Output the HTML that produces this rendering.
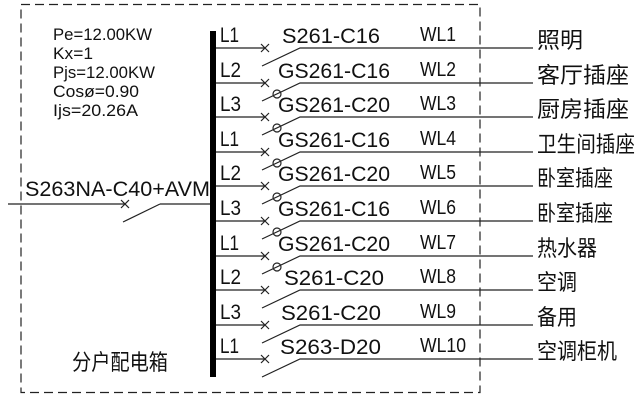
<!DOCTYPE html>
<html><head><meta charset="utf-8"><style>
html,body{margin:0;padding:0;background:#fff;}
svg{display:block;}
text{font-family:"Liberation Sans","Noto Sans CJK SC",sans-serif;fill:#111;}
.c{font-family:"Noto Sans CJK SC","WenQuanYi Zen Hei",sans-serif;font-size:22px;}
.l{font-size:21px;}
.b{font-size:21px;}
.w{font-size:20px;}
</style></head><body>
<svg width="640" height="401" viewBox="0 0 640 401" xmlns="http://www.w3.org/2000/svg">
<rect x="0" y="0" width="640" height="401" fill="#fff"/>
<rect x="21" y="4.5" width="459" height="388" stroke="#222" stroke-width="1.2" fill="none" stroke-dasharray="9,5"/>
<g font-size="17">
<text x="53" y="40" textLength="99" lengthAdjust="spacingAndGlyphs">Pe=12.00KW</text>
<text x="53" y="59" textLength="40" lengthAdjust="spacingAndGlyphs">Kx=1</text>
<text x="53" y="78" textLength="102" lengthAdjust="spacingAndGlyphs">Pjs=12.00KW</text>
<text x="53" y="97" textLength="86" lengthAdjust="spacingAndGlyphs">Cosø=0.90</text>
<text x="53" y="116" textLength="85" lengthAdjust="spacingAndGlyphs">Ijs=20.26A</text>
<text x="25" y="196" font-size="21" textLength="185" lengthAdjust="spacingAndGlyphs">S263NA-C40+AVM</text>
</g>
<g stroke="#222" stroke-width="1.2" fill="none">
<line x1="8" y1="204" x2="125" y2="204"/>
<line x1="121" y1="200" x2="129" y2="208"/><line x1="121" y1="208" x2="129" y2="200"/>
<line x1="123" y1="222" x2="160" y2="204"/>
<line x1="160" y1="204" x2="212" y2="204"/>
</g>
<rect x="210" y="31" width="6" height="346" fill="#000"/>
<text class="c" x="72" y="370" textLength="96" lengthAdjust="spacingAndGlyphs">分户配电箱</text>

<!-- rows: y = 48,83,117,152,186,221,256,290,325,359 -->
<g stroke="#222" stroke-width="1.2" fill="none">
<path d="M216 48H265M261 44l8 8M261 52l8-8M262 66L300 48H533"/>
<path d="M216 83H265M261 79l8 8M261 87l8-8M262 101L300 83H533"/>
<path d="M216 117H265M261 113l8 8M261 121l8-8M262 135L300 117H533"/>
<path d="M216 152H265M261 148l8 8M261 156l8-8M262 170L300 152H533"/>
<path d="M216 186H265M261 182l8 8M261 190l8-8M262 204L300 186H533"/>
<path d="M216 221H265M261 217l8 8M261 225l8-8M262 239L300 221H533"/>
<path d="M216 256H265M261 252l8 8M261 260l8-8M262 274L300 256H533"/>
<path d="M216 290H265M261 286l8 8M261 294l8-8M262 308L300 290H533"/>
<path d="M216 325H265M261 321l8 8M261 329l8-8M262 343L300 325H533"/>
<path d="M216 359H265M261 355l8 8M261 363l8-8M262 377L300 359H533"/>
<circle cx="277" cy="94" r="4"/>
<circle cx="277" cy="128" r="4"/>
<circle cx="277" cy="163" r="4"/>
<circle cx="277" cy="197" r="4"/>
<circle cx="277" cy="232" r="4"/>
<circle cx="277" cy="267" r="4"/>
</g>

<g class="l">
<text x="220" y="42" textLength="19" lengthAdjust="spacingAndGlyphs">L1</text>
<text x="220" y="77" textLength="21" lengthAdjust="spacingAndGlyphs">L2</text>
<text x="220" y="111" textLength="21" lengthAdjust="spacingAndGlyphs">L3</text>
<text x="220" y="146" textLength="19" lengthAdjust="spacingAndGlyphs">L1</text>
<text x="220" y="180" textLength="21" lengthAdjust="spacingAndGlyphs">L2</text>
<text x="220" y="215" textLength="21" lengthAdjust="spacingAndGlyphs">L3</text>
<text x="220" y="250" textLength="19" lengthAdjust="spacingAndGlyphs">L1</text>
<text x="220" y="284" textLength="21" lengthAdjust="spacingAndGlyphs">L2</text>
<text x="220" y="319" textLength="21" lengthAdjust="spacingAndGlyphs">L3</text>
<text x="220" y="353" textLength="19" lengthAdjust="spacingAndGlyphs">L1</text>
</g>
<g class="b">
<text x="282" y="43" textLength="98" lengthAdjust="spacingAndGlyphs">S261-C16</text>
<text x="278" y="78" textLength="112" lengthAdjust="spacingAndGlyphs">GS261-C16</text>
<text x="278" y="112" textLength="112" lengthAdjust="spacingAndGlyphs">GS261-C20</text>
<text x="278" y="147" textLength="112" lengthAdjust="spacingAndGlyphs">GS261-C16</text>
<text x="278" y="181" textLength="112" lengthAdjust="spacingAndGlyphs">GS261-C20</text>
<text x="278" y="216" textLength="112" lengthAdjust="spacingAndGlyphs">GS261-C16</text>
<text x="278" y="251" textLength="112" lengthAdjust="spacingAndGlyphs">GS261-C20</text>
<text x="284" y="285" textLength="100" lengthAdjust="spacingAndGlyphs">S261-C20</text>
<text x="281" y="320" textLength="100" lengthAdjust="spacingAndGlyphs">S261-C20</text>
<text x="280" y="354" textLength="101" lengthAdjust="spacingAndGlyphs">S263-D20</text>
</g>
<g class="w">
<text x="420" y="41" textLength="36" lengthAdjust="spacingAndGlyphs">WL1</text>
<text x="420" y="76" textLength="36" lengthAdjust="spacingAndGlyphs">WL2</text>
<text x="420" y="110" textLength="36" lengthAdjust="spacingAndGlyphs">WL3</text>
<text x="420" y="145" textLength="36" lengthAdjust="spacingAndGlyphs">WL4</text>
<text x="420" y="179" textLength="36" lengthAdjust="spacingAndGlyphs">WL5</text>
<text x="420" y="214" textLength="36" lengthAdjust="spacingAndGlyphs">WL6</text>
<text x="420" y="249" textLength="36" lengthAdjust="spacingAndGlyphs">WL7</text>
<text x="420" y="283" textLength="36" lengthAdjust="spacingAndGlyphs">WL8</text>
<text x="420" y="318" textLength="36" lengthAdjust="spacingAndGlyphs">WL9</text>
<text x="420" y="352" textLength="46" lengthAdjust="spacingAndGlyphs">WL10</text>
</g>
<g class="c">
<text x="537" y="48" textLength="46" lengthAdjust="spacingAndGlyphs">照明</text>
<text x="537" y="83" textLength="92" lengthAdjust="spacingAndGlyphs">客厅插座</text>
<text x="537" y="117" textLength="92" lengthAdjust="spacingAndGlyphs">厨房插座</text>
<text x="537" y="152" textLength="98" lengthAdjust="spacingAndGlyphs">卫生间插座</text>
<text x="537" y="186" textLength="76" lengthAdjust="spacingAndGlyphs">卧室插座</text>
<text x="537" y="221" textLength="76" lengthAdjust="spacingAndGlyphs">卧室插座</text>
<text x="537" y="256" textLength="60" lengthAdjust="spacingAndGlyphs">热水器</text>
<text x="537" y="290" textLength="40" lengthAdjust="spacingAndGlyphs">空调</text>
<text x="537" y="325" textLength="40" lengthAdjust="spacingAndGlyphs">备用</text>
<text x="537" y="359" textLength="80" lengthAdjust="spacingAndGlyphs">空调柜机</text>
</g>
</svg>
</body></html>
